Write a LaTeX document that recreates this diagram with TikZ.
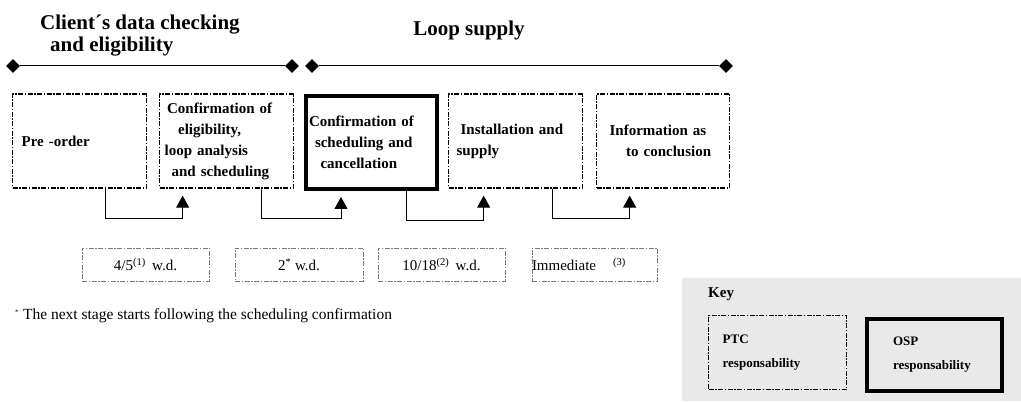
\documentclass[tikz,border=0pt]{standalone}
\usepackage{fontspec}
\setmainfont{Liberation Serif}
\usetikzlibrary{arrows.meta,shapes.geometric}
\definecolor{keygray}{HTML}{E9E9E9}
\definecolor{timegray}{HTML}{7A7A7A}

\begin{document}
\begin{tikzpicture}[x=1pt,y=-1pt,
  dashdot/.style={dash pattern=on 5pt off 1.5pt on 1.5pt off 1.5pt},
  stage/.style={draw, dashdot, line width=1.3pt, anchor=west, minimum height=94pt,
    inner ysep=0pt, align=left, font=\bfseries\fontsize{15}{21}\selectfont},
  thickstage/.style={stage, solid, line width=4pt, minimum height=93pt},
  timebox/.style={draw=timegray, dashdot, line width=0.8pt, minimum width=127pt,
    minimum height=33pt, inner sep=0pt, font=\fontsize{15}{18}\selectfont},
  tip/.style={diamond, fill, inner sep=0pt, minimum size=14pt},
  link/.style={line width=0.8pt, -{Triangle[length=12pt,width=13pt]}},
  title/.style={font=\bfseries\fontsize{21}{22}\selectfont, inner sep=0pt}
]
\useasboundingbox (0,0) rectangle (1021,403);

%drawing titles
\node[title, anchor=north west, align=left] (t1) at (40,14.5)
  {Client´s data checking\\\hspace*{10pt}and eligibility};
\node[title, anchor=base] (t2) at (469,36) {Loop supply};

%drawing timeline
\node[tip] (d1) at (13,66) {};
\node[tip] (d2) at (292,66) {};
\node[tip] (d3) at (312,66) {};
\node[tip] (d4) at (726,66) {};
\draw[line width=1pt] (d1) -- (d2);
\draw[line width=1pt] (d3) -- (d4);

%drawing stages
\node[stage, inner xsep=9pt, text width=116pt] (p1) at (12,141) {Pre -order};
\node[stage, inner xsep=5pt, text width=124pt] (p2) at (159,141)
  {\hspace*{2.5pt}Confirmation of\\\hspace*{13.5pt}eligibility,\\loop analysis\\\hspace*{7pt}and scheduling};
\node[thickstage, inner xsep=3pt, text width=125pt] (p3) at (304,142.5)
  {Confirmation of\\\hspace*{6pt}scheduling and\\\hspace*{11.5pt}cancellation};
\node[stage, inner xsep=8pt, text width=118pt] (p4) at (448,141)
  {\hspace*{4pt}Installation and\\supply};
\node[stage, inner xsep=13pt, text width=107pt] (p5) at (596,141)
  {Information as\\\hspace*{16.5pt}to conclusion};

%connecting them
\draw[link] ([xshift=26pt]p1.south) -- ++(0,30) -| ([xshift=-44pt,yshift=-7pt]p2.south);
\draw[link] ([xshift=35pt]p2.south) -- ++(0,30) -| ([xshift=-30.5pt,yshift=-6pt]p3.south);
\draw[link] ([xshift=34.5pt]p3.south) -- ++(0,29) -| ([xshift=-32pt,yshift=-7pt]p4.south);
\draw[link] ([xshift=37pt]p4.south) -- ++(0,30) -| ([xshift=-33.5pt,yshift=-7pt]p5.south);

%drawing times
\node[timebox] (w1) at (145.5,264.5) {4/5\textsuperscript{(1)}\, w.d.};
\node[timebox, minimum width=128pt] (w2) at (299,264.5) {2\textsuperscript{*} w.d.};
\node[timebox] (w3) at (441.5,264.5) {10/18\textsuperscript{(2)}\, w.d.};
\node[timebox, minimum width=125pt, text width=125pt, align=left] (w4) at (594.5,264.5)
  {Immediate\hspace{17pt}\textsuperscript{(3)}};

%note
\node[anchor=west, inner sep=0pt, font=\fontsize{15.5}{17}\selectfont] (note) at (15,316)
  {\textsuperscript{\scriptsize *} The next stage starts following the scheduling confirmation};

%drawing key
\fill[keygray] (682,278) rectangle (1021,401);
\node[anchor=west, inner sep=0pt, font=\bfseries\fontsize{15}{18}\selectfont] (key) at (708,294) {Key};
\node[draw, dashdot, line width=1.3pt, anchor=north west, minimum width=138pt, minimum height=74pt,
  inner xsep=14pt, text width=110pt, align=left, font=\bfseries\fontsize{13}{24}\selectfont]
  (ptc) at (708,315) {PTC\\responsability};
\node[draw, line width=4pt, anchor=north west, minimum width=135pt, minimum height=72pt,
  inner xsep=26pt, text width=83pt, align=left, font=\bfseries\fontsize{13}{24}\selectfont]
  (osp) at (865,317) {OSP\\responsability};

\end{tikzpicture}
\end{document}
